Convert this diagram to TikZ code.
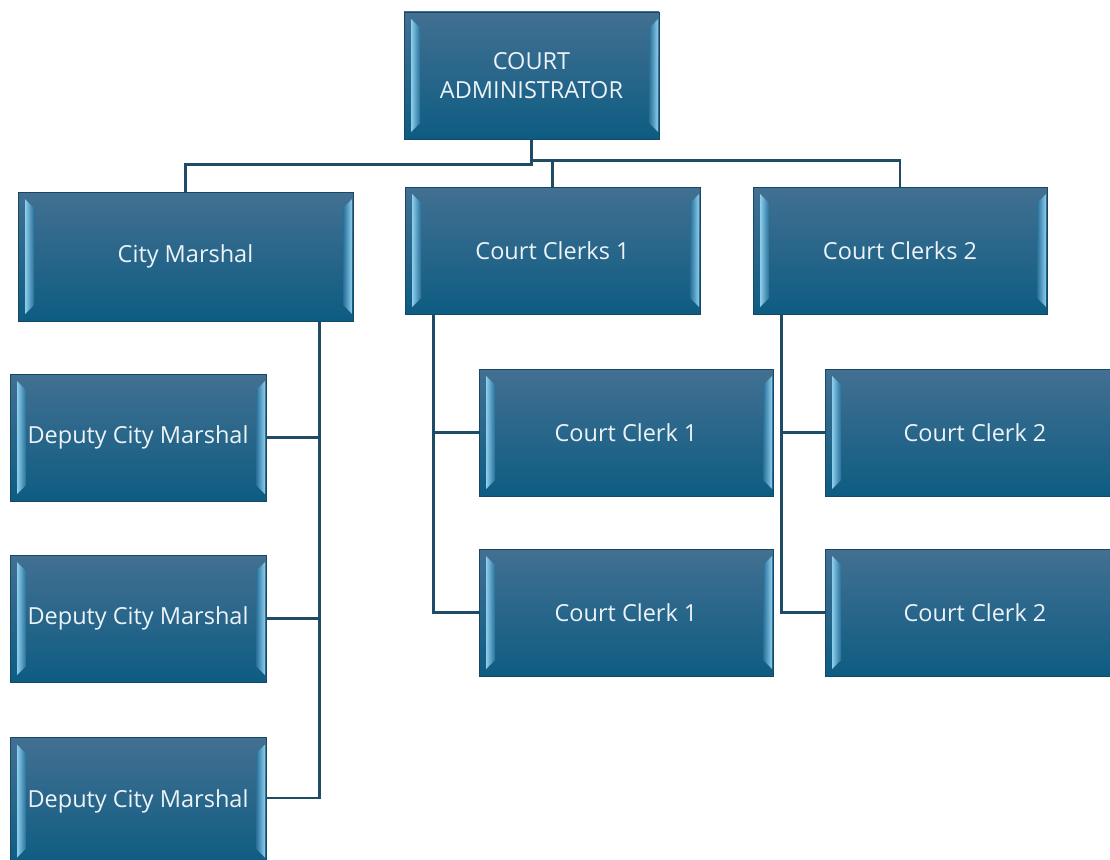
\documentclass[tikz,border=0pt]{standalone}
\usepackage{fontspec}
\newfontfamily\boxfont{Open Sans}
\usetikzlibrary{calc}
\definecolor{boxtop}{RGB}{66,112,146}
\definecolor{boxbot}{RGB}{14,92,130}
\definecolor{boxedge}{RGB}{22,72,100}
\definecolor{bevdark}{RGB}{40,112,152}
\definecolor{bevlight}{RGB}{140,206,238}
\definecolor{linkcol}{RGB}{30,76,102}
\definecolor{labelcol}{RGB}{236,243,247}
\tikzset{
  orgbox/.style={
    draw=boxedge, line width=0.8pt,
    top color=boxtop, bottom color=boxbot,
    text=labelcol, font=\boxfont\fontsize{23.5}{28.5}\selectfont,
    align=center, inner sep=0pt, minimum height=127pt,
    path picture={
      \coordinate (pbnw) at (path picture bounding box.north west);
      \coordinate (pbse) at (path picture bounding box.south east);
      \coordinate (pbsw) at (path picture bounding box.south west);
      \coordinate (pbne) at (path picture bounding box.north east);
      % left bevel strip
      \shade[left color=bevlight, right color=bevdark]
        ($(pbnw)+(7,7)$) -- ($(pbnw)+(16,16)$) -- ($(pbsw)+(16,-16)$) -- ($(pbsw)+(7,-7)$) -- cycle;
      % right bevel strip
      \shade[left color=bevdark, right color=bevlight]
        ($(pbne)+(-10,16)$) -- ($(pbne)+(-1,7)$) -- ($(pbse)+(-1,-7)$) -- ($(pbse)+(-10,-16)$) -- cycle;
    }},
  link/.style={draw=linkcol, line width=2.4pt}
}
\begin{document}
\begin{tikzpicture}[x=1pt,y=-1pt]
  \fill[white] (0,0) rectangle (1110,859);
  \clip (0,0) rectangle (1110,859);
  \useasboundingbox (0,0) rectangle (1110,859);

  % top level
  \node[orgbox, minimum width=255pt] (admin) at (531.5,75.5) {COURT\\ADMINISTRATOR};

  % second level
  \node[orgbox, minimum width=335pt, minimum height=129pt] (cm) at (185.5,256.5) {City Marshal};
  \node[orgbox, minimum width=295pt] (cc1) at (552.5,250.5) {Court Clerks 1};
  \node[orgbox, minimum width=294pt] (cc2) at (900,250.5) {Court Clerks 2};

  % deputies
  \node[orgbox, minimum width=256pt] (d1) at (138,437.5) {Deputy City Marshal};
  \node[orgbox, minimum width=256pt] (d2) at (138,618.5) {Deputy City Marshal};
  \node[orgbox, minimum width=256pt] (d3) at (138,801) {Deputy City Marshal};

  % clerks
  \node[orgbox, minimum width=294pt] (k1a) at (626,432.5) {Court Clerk 1};
  \node[orgbox, minimum width=294pt] (k1b) at (626,612.5) {Court Clerk 1};
  \node[orgbox, minimum width=300pt] (k2a) at (975,432.5) {Court Clerk 2};
  \node[orgbox, minimum width=300pt] (k2b) at (975,612.5) {Court Clerk 2};

  % connectors from the administrator
  \coordinate (busL) at ($(admin.south)+(0,25)$);
  \coordinate (busR) at ($(admin.south)+(0,21)$);
  \draw[link] (admin.south) -- (busL) -| (cm.north);
  \draw[link] (busR) -| (cc2.north);
  \draw[link] (cc1.north) -- (cc1.north |- busR);

  % city marshal branch
  \coordinate (trunkM) at ($(cm.south west)+(302,0)$);
  \draw[link] (trunkM) |- (d3.east |- 0,798);
  \draw[link] (d1.east) -- (d1.east -| trunkM);
  \draw[link] (d2.east) -- (d2.east -| trunkM);

  % court clerks 1 branch
  \coordinate (trunkA) at ($(cc1.south west)+(29,0)$);
  \draw[link] (trunkA) |- (k1b.west);
  \draw[link] (k1a.west) -- (k1a.west -| trunkA);

  % court clerks 2 branch
  \coordinate (trunkB) at ($(cc2.south west)+(29,0)$);
  \draw[link] (trunkB) |- (k2b.west);
  \draw[link] (k2a.west) -- (k2a.west -| trunkB);
\end{tikzpicture}
\end{document}
